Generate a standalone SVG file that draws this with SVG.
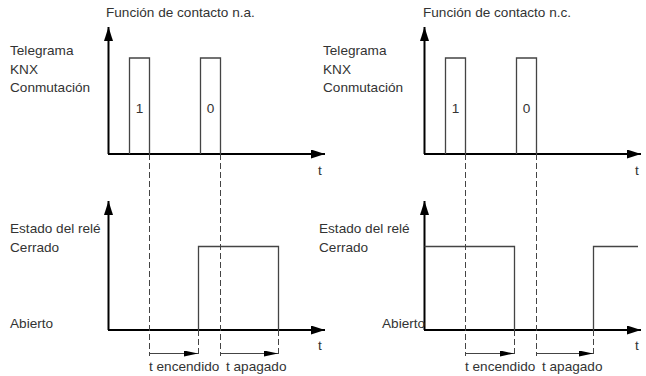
<svg xmlns="http://www.w3.org/2000/svg" width="646" height="376" viewBox="0 0 646 376">
<style>
text{font-family:"Liberation Sans",Arial,sans-serif;font-size:13.6px;fill:#333}
.ax{stroke:#000;stroke-width:2;fill:none}
.sig{stroke:#444;stroke-width:1.3;fill:none}
.dash{stroke:#444;stroke-width:1;stroke-dasharray:6 3;fill:none}
.tm{stroke:#444;stroke-width:1.2;fill:none}
.mid{text-anchor:middle}
</style>
<defs>
<marker id="ah" markerUnits="userSpaceOnUse" markerWidth="15" markerHeight="10" refX="14" refY="4.5" orient="auto"><path d="M0,0 L14,4.5 L0,9 z" fill="#000"/></marker>
<marker id="sh" markerUnits="userSpaceOnUse" markerWidth="15" markerHeight="7" refX="14" refY="3" orient="auto"><path d="M0,0 L14,3 L0,6 z" fill="#000"/></marker>
</defs>
<rect width="646" height="376" fill="#fff"/>
<g id="connectors">
<line class="ax" x1="108.5" y1="154" x2="108.5" y2="27" marker-end="url(#ah)"/>
<line class="ax" x1="108" y1="154" x2="325" y2="154" marker-end="url(#ah)"/>
<line class="ax" x1="108.5" y1="330" x2="108.5" y2="201" marker-end="url(#ah)"/>
<line class="ax" x1="108" y1="330" x2="325" y2="330" marker-end="url(#ah)"/>
<line class="ax" x1="424.5" y1="154" x2="424.5" y2="27" marker-end="url(#ah)"/>
<line class="ax" x1="424" y1="154" x2="641" y2="154" marker-end="url(#ah)"/>
<line class="ax" x1="424.5" y1="330" x2="424.5" y2="201" marker-end="url(#ah)"/>
<line class="ax" x1="424" y1="330" x2="641" y2="330" marker-end="url(#ah)"/>
<path class="dash" d="M149.5,154 V356 M220.5,154 V356 M198.5,330 V356 M278.5,330 V356 M465.5,154 V356 M536.5,154 V356 M514.5,330 V356 M593.5,330 V356"/>
<line class="tm" x1="149.5" y1="353.5" x2="198" y2="353.5" marker-end="url(#sh)"/>
<line class="tm" x1="220.5" y1="353.5" x2="278" y2="353.5" marker-end="url(#sh)"/>
<line class="tm" x1="465.5" y1="353.5" x2="514" y2="353.5" marker-end="url(#sh)"/>
<line class="tm" x1="536.5" y1="353.5" x2="593" y2="353.5" marker-end="url(#sh)"/>
</g>
<g id="left-telegram">
<text x="106" y="17">Función de contacto n.a.</text>
<text x="10" y="55">Telegrama</text>
<text x="10" y="73.5">KNX</text>
<text x="10" y="92">Conmutación</text>
<path class="sig" d="M129.5,154 V58 H149.5 V154 M200.5,154 V58 H220.5 V154"/>
<text class="mid" x="139.5" y="112.5">1</text>
<text class="mid" x="210.5" y="112.5">0</text>
<text x="318" y="175">t</text>
</g>
<g id="left-relay">
<text x="10" y="233">Estado del relé</text>
<text x="10" y="251.5">Cerrado</text>
<text x="10" y="327.5">Abierto</text>
<path class="sig" d="M198.5,330 V246.5 H278.5 V330"/>
<text x="318" y="350">t</text>
<text x="149" y="371">t encendido</text>
<text x="226" y="371">t apagado</text>
</g>
<g id="right-telegram">
<text x="423" y="17">Función de contacto n.c.</text>
<text x="323" y="55">Telegrama</text>
<text x="323" y="73.5">KNX</text>
<text x="323" y="92">Conmutación</text>
<path class="sig" d="M445.5,154 V58 H465.5 V154 M516.5,154 V58 H536.5 V154"/>
<text class="mid" x="455.5" y="112.5">1</text>
<text class="mid" x="526.5" y="112.5">0</text>
<text x="635" y="175">t</text>
</g>
<g id="right-relay">
<text x="319" y="233">Estado del relé</text>
<text x="319" y="251.5">Cerrado</text>
<text x="382" y="327.5">Abierto</text>
<path class="sig" d="M424.5,246.5 H514.5 V330 M593.5,330 V246.5 H638"/>
<text x="635" y="350">t</text>
<text x="465" y="371">t encendido</text>
<text x="542" y="371">t apagado</text>
</g>
</svg>
